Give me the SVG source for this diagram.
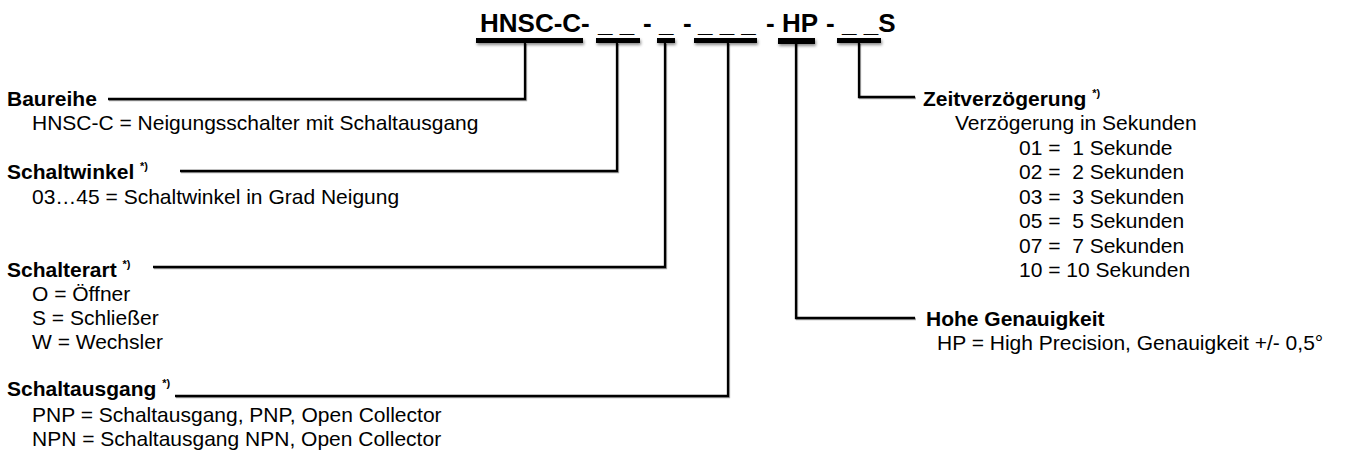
<svg xmlns="http://www.w3.org/2000/svg" width="1351" height="457" viewBox="0 0 1351 457">
<defs>
<filter id="sh" x="-10%" y="-50%" width="120%" height="300%">
<feDropShadow dx="1" dy="2" stdDeviation="1.5" flood-color="#000" flood-opacity="0.45"/>
</filter>
<filter id="lsh" x="-10%" y="-10%" width="120%" height="120%">
<feDropShadow dx="1" dy="1" stdDeviation="0.6" flood-color="#000" flood-opacity="0.35"/>
</filter>
</defs>
<style>
text{font-family:"Liberation Sans",Arial,sans-serif;fill:#000}
.h{font-size:26px;font-weight:bold}
.t{font-size:21px;font-weight:bold}
.b{font-size:21px}
.s{font-size:11px;font-weight:bold}
.bar{fill:#000}
.ln{fill:none;stroke:#000;stroke-width:2.3}
</style>
<rect width="1351" height="457" fill="#fff"/>
<g id="header">
<text class="h" y="32" xml:space="preserve"><tspan x="480">HNSC-C- </tspan><tspan x="598">_ _ </tspan><tspan x="643">- </tspan><tspan x="659">_ </tspan><tspan x="683">- </tspan><tspan x="698">_ _ _ </tspan><tspan x="766">- </tspan><tspan x="782">HP </tspan><tspan x="826">- </tspan><tspan x="842">_ _S</tspan></text>
<g filter="url(#sh)">
<rect class="bar" x="476" y="38" width="107" height="5"/>
<rect class="bar" x="596" y="38" width="44" height="5"/>
<rect class="bar" x="657" y="38" width="18" height="5"/>
<rect class="bar" x="694" y="38" width="63" height="5"/>
<rect class="bar" x="778" y="38" width="37" height="6"/>
<rect class="bar" x="837" y="38" width="44" height="5"/>
</g>
</g>
<g id="connectors" filter="url(#lsh)">
<path class="ln" d="M525 43V99H108"/>
<path class="ln" d="M617 43V171H180"/>
<path class="ln" d="M665 43V267H153"/>
<path class="ln" d="M728 43V396H175"/>
<path class="ln" d="M796 43V318H915"/>
<path class="ln" d="M859 43V97H915"/>
</g>
<g id="baureihe">
<text class="t" x="7" y="106">Baureihe</text>
<text class="b" x="32" y="130">HNSC-C = Neigungsschalter mit Schaltausgang</text>
</g>
<g id="schaltwinkel">
<text class="t" x="7" y="179">Schaltwinkel <tspan class="s" dy="-9">*)</tspan></text>
<text class="b" x="32" y="204">03…45 = Schaltwinkel in Grad Neigung</text>
</g>
<g id="schalterart">
<text class="t" x="7" y="277">Schalterart <tspan class="s" dy="-9">*)</tspan></text>
<text class="b" x="32" y="301">O = Öffner</text>
<text class="b" x="32" y="325">S = Schließer</text>
<text class="b" x="32" y="349">W = Wechsler</text>
</g>
<g id="schaltausgang">
<text class="t" x="7" y="396">Schaltausgang <tspan class="s" dy="-9">*)</tspan></text>
<text class="b" x="32" y="422">PNP = Schaltausgang, PNP, Open Collector</text>
<text class="b" x="32" y="446">NPN = Schaltausgang NPN, Open Collector</text>
</g>
<g id="zeitverzoegerung">
<text class="t" x="923" y="106">Zeitverzögerung <tspan class="s" dy="-9">*)</tspan></text>
<text class="b" x="955" y="130">Verzögerung in Sekunden</text>
<text class="b" x="1019" y="155" xml:space="preserve">01 =  1 Sekunde</text>
<text class="b" x="1019" y="179" xml:space="preserve">02 =  2 Sekunden</text>
<text class="b" x="1019" y="204" xml:space="preserve">03 =  3 Sekunden</text>
<text class="b" x="1019" y="228" xml:space="preserve">05 =  5 Sekunden</text>
<text class="b" x="1019" y="253" xml:space="preserve">07 =  7 Sekunden</text>
<text class="b" x="1019" y="277" xml:space="preserve">10 = 10 Sekunden</text>
</g>
<g id="genauigkeit">
<text class="t" x="926" y="326">Hohe Genauigkeit</text>
<text class="b" x="937" y="350">HP = High Precision, Genauigkeit +/- 0,5°</text>
</g>
</svg>
